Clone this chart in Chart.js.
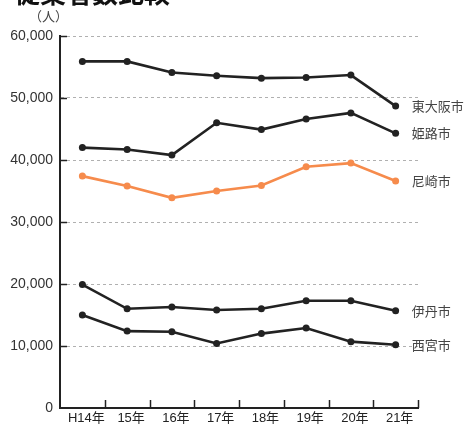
<!DOCTYPE html>
<html>
<head>
<meta charset="utf-8">
<script src="https://cdn.jsdelivr.net/npm/chart.js@4"></script>
<style>
  body { margin: 0; background: #fff; }
  #wrap { position: relative; width: 469px; height: 427px; overflow: hidden; }
  #titulo { position: absolute; left: 14px; top: -21px; font: bold 26px/26px "Noto Sans CJK JP", sans-serif; color: #111; }
  #unidade { position: absolute; left: 29px; top: 8px; font: 13px/16px "Noto Sans CJK JP", sans-serif; color: #444; }
</style>
</head>
<body>
<div id="wrap">
  <div id="titulo">従業者数比較</div>
  <div id="unidade">（人）</div>
  <canvas id="grafico" width="469" height="427"></canvas>
</div>
<script>
// 年（横軸ラベル）
var anos = ['H14年', '15年', '16年', '17年', '18年', '19年', '20年', '21年'];

// 各市の従業者数（人）
var higashiosaka = [55900, 55900, 54100, 53600, 53200, 53300, 53700, 48700];
var himeji = [42000, 41700, 40800, 46000, 44900, 46600, 47600, 44300];
var amagasaki = [37400, 35800, 33900, 35000, 35900, 38900, 39500, 36600];
var itami = [19900, 16000, 16300, 15800, 16000, 17300, 17300, 15700];
var nishinomiya = [15000, 12400, 12300, 10400, 12000, 12900, 10700, 10200];

// 縦軸の目盛り
var yMin = 0;
var yMax = 60000;
var yPasso = 10000;

var PRETO = '#222222';
var LARANJA = '#f68b4c';

function serie(nome, dados, cor) {
  return {
    label: nome,
    data: dados,
    borderColor: cor,
    backgroundColor: cor,
    pointBackgroundColor: cor,
    pointBorderColor: cor,
    borderWidth: 2.6,
    pointRadius: 3.5,
    pointBorderWidth: 0,
    tension: 0,
    fill: false
  };
}

// 右端の市名と内向きの目盛り線を描く
var extras = {
  id: 'extras',
  afterDatasetsDraw: function(chart) {
    var c = chart.ctx;
    var x = chart.scales.x;
    var y = chart.scales.y;
    var area = chart.chartArea;

    c.save();
    c.strokeStyle = PRETO;
    c.lineWidth = 1.5;
    // 縦軸の目盛り（内側）
    for (var v = yMin + yPasso; v <= yMax; v += yPasso) {
      var py = Math.round(y.getPixelForValue(v)) + 0.5;
      c.beginPath();
      c.moveTo(area.left, py);
      c.lineTo(area.left + 7, py);
      c.stroke();
    }
    // 横軸の目盛り（上向き、区切り位置）
    var meio = (x.getPixelForValue(1) - x.getPixelForValue(0)) / 2;
    for (var i = 0; i < anos.length; i++) {
      var px = Math.round(x.getPixelForValue(i) + meio) + 0.5;
      c.beginPath();
      c.moveTo(px, area.bottom);
      c.lineTo(px, area.bottom - 8);
      c.stroke();
    }

    // 市名
    c.fillStyle = '#444';
    c.font = '13px "Noto Sans CJK JP", sans-serif';
    c.textBaseline = 'middle';
    c.textAlign = 'left';
    chart.data.datasets.forEach(function(ds, k) {
      var meta = chart.getDatasetMeta(k);
      var ult = meta.data[meta.data.length - 1];
      c.fillText(ds.label, ult.x + 16, ult.y);
    });
    c.restore();
  }
};

var ctx = document.getElementById('grafico').getContext('2d');

var grafico = new Chart(ctx, {
  type: 'line',
  data: {
    labels: anos,
    datasets: [
      serie('東大阪市', higashiosaka, PRETO),
      serie('姫路市', himeji, PRETO),
      serie('尼崎市', amagasaki, LARANJA),
      serie('伊丹市', itami, PRETO),
      serie('西宮市', nishinomiya, PRETO)
    ]
  },
  options: {
    responsive: false,
    animation: false,
    layout: {
      padding: { top: 36, right: 51, bottom: 0, left: 0 }
    },
    plugins: {
      legend: { display: false },
      tooltip: { enabled: false }
    },
    scales: {
      x: {
        type: 'category',
        offset: true,
        grid: { offset: true, drawOnChartArea: false, drawTicks: false },
        border: { color: PRETO, width: 2 },
        ticks: {
          color: '#222',
          padding: 3,
          labelOffset: 4,
          maxRotation: 0,
          autoSkip: false,
          font: { family: '"Liberation Sans", "Noto Sans CJK JP", sans-serif', size: 13 }
        },
        afterFit: function(s) { s.height = 19; }
      },
      y: {
        min: yMin,
        max: yMax,
        grid: { color: '#b0b0b0', lineWidth: 1, drawTicks: false },
        border: { color: PRETO, width: 2, dash: [3, 3] },
        ticks: {
          stepSize: yPasso,
          color: '#333',
          padding: 7,
          font: { family: '"Liberation Sans", sans-serif', size: 14 },
          callback: function(v) { return v.toLocaleString('en-US'); }
        },
        afterFit: function(s) { s.width = 60; }
      }
    }
  },
  plugins: [extras]
});
</script>
</body>
</html>
